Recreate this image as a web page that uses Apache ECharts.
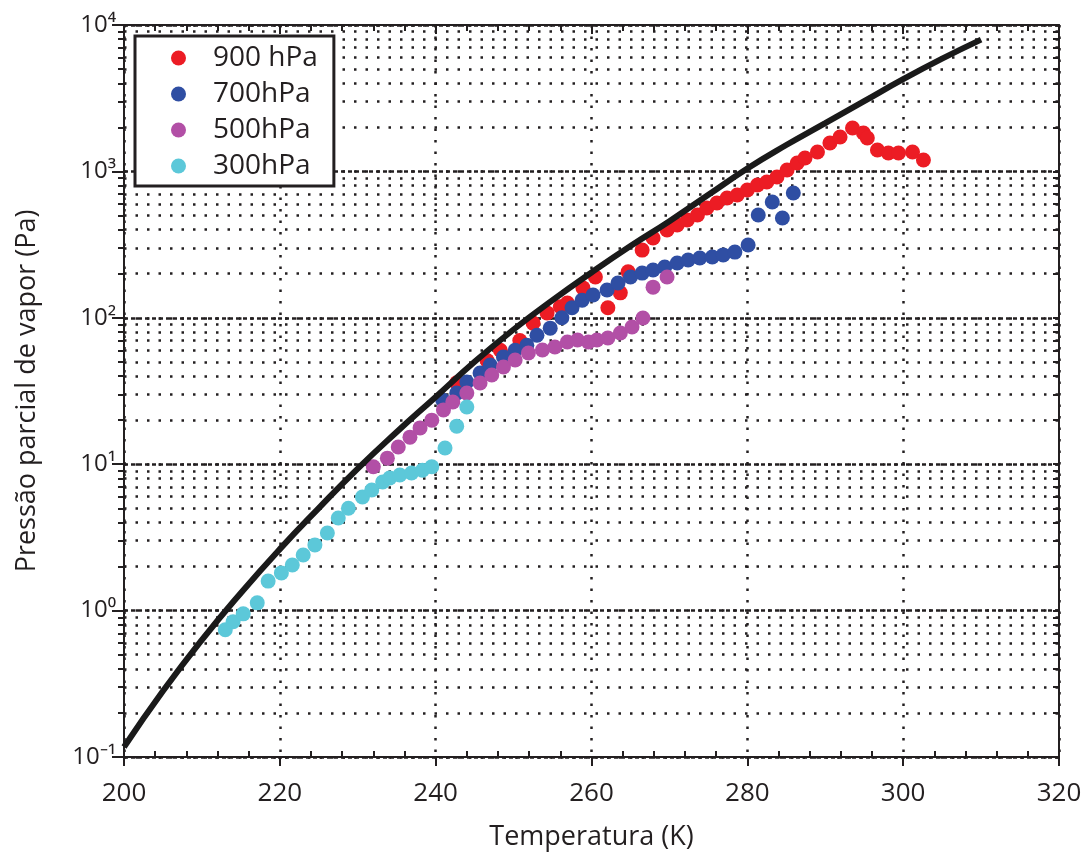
<!DOCTYPE html>
<html><head><meta charset="utf-8">
<script src="https://cdn.jsdelivr.net/npm/echarts@6/dist/echarts.min.js"></script>
<style>html,body{margin:0;padding:0;background:#fff}#c{width:1082px;height:852px}</style>
</head><body><div id="c"></div>
<script>
// ---- axis ticks / labels ----
const decades = [0.1, 1, 10, 100, 1000, 10000];
const decadeLabels = ['10⁻¹', '10⁰', '10¹', '10²', '10³', '10⁴'];
const xTicks = [200, 220, 240, 260, 280, 300, 320];
const seriesNames = ['900 hPa', '700hPa', '500hPa', '300hPa'];

// ---- saturation curve (black) ----
const satT = [200,205,210,215,220,225,230,235,240,245,250,255,260,265,270,275,280,285,290,295,300,305,310];
const satP = [0.117,0.282,0.631,1.32,2.63,5.01,9.33,16.6,28.8,50.1,83.2,132,204,309,457,692,1047,1514,2138,3020,4266,5888,7943];

// ---- 900 hPa ----
const t900 = [242.7,246.6,248.3,250.8,252.5,254.3,256.0,256.9,258.9,260.5,262.1,263.7,264.7,266.5,267.9,269.7,271.0,272.3,273.6,274.8,276.1,277.4,278.7,280.0,281.3,282.5,283.8,285.1,286.4,287.4,289.0,290.6,291.9,293.5,294.9,295.4,296.7,298.1,299.4,301.2,302.6];
const p900 = [36,51,60,70,92,108,119,126,160,190,117,148,206,290,351,398,431,466,504,562,608,658,690,746,807,847,916,1023,1141,1236,1358,1563,1718,1978,1829,1691,1400,1335,1335,1358,1197];

// ---- 700 hPa ----
const t700 = [240.9,242.7,244.0,245.7,247.0,248.7,250.2,251.7,253.0,254.7,256.2,257.5,258.8,260.2,262.0,263.4,265.0,266.5,267.9,269.4,271.0,272.4,273.9,275.5,276.9,278.4,280.1,281.4,283.2,284.5,285.9];
const p700 = [27.5,30.6,36.4,42,47.6,54,60,65,76,85,100,117,132,143,155,173,190,202,212,222,237,248,256,260,269,281,314,504,618,481,712];

// ---- 500 hPa ----
const t500 = [232.0,233.8,235.2,236.7,238.0,239.5,241.0,242.2,244.0,245.7,247.2,248.7,250.2,251.9,253.7,255.3,256.9,258.2,259.6,260.7,262.1,263.7,265.2,266.6,267.9,269.7];
const p500 = [9.6,11.0,13.1,15.3,17.7,20.0,23.5,26.6,30.6,35.9,40.7,46.1,51.5,57.5,60.3,63.2,68.4,70.5,68.4,70.5,72.8,78.7,86.5,99.7,162,190];

// ---- 300 hPa ----
const t300 = [213.0,214.0,215.3,217.1,218.5,220.2,221.6,223.0,224.5,226.1,227.5,228.8,230.6,231.8,233.2,234.1,235.4,236.9,238.3,239.5,241.2,242.7,244.0];
const p300 = [0.74,0.84,0.95,1.13,1.59,1.81,2.05,2.40,2.81,3.39,4.29,5.0,5.97,6.67,7.56,8.05,8.44,8.7,9.1,9.6,12.9,18.2,24.6];

const colors = ['#ec1c24', '#2f4ea3', '#b24fa6', '#5cc8d9'];

// tick positions for the log axis: 1..9 times each decade
const allY = [];
decades.forEach((d, i) => {
  allY.push(d);
  if (i < decades.length - 1) for (let k = 2; k <= 9; k++) allY.push(+(d * k).toPrecision(3));
});

const zip = (a, b) => a.map((v, i) => [v, b[i]]);
const FONT = 'Open Sans';
const TXT = '#231f20';

const baseY = {type: 'log', logBase: 10, min: 0.1, max: 10000, gridIndex: 0};

const chart = echarts.init(document.getElementById('c'), null, {renderer: 'canvas'});
chart.setOption({
  animation: false,
  backgroundColor: '#fff',
  textStyle: {fontFamily: FONT},
  grid: {left: 124, right: 23, top: 25, bottom: 95, containLabel: false, outerBoundsMode: 'none'},
  legend: {
    orient: 'vertical', left: 135, top: 36,
    data: seriesNames,
    backgroundColor: '#fff',
    borderColor: '#231f20', borderWidth: 3, borderRadius: 0,
    padding: [7, 16, 5, 36],
    itemWidth: 15, itemHeight: 15, itemGap: 6,
    icon: 'circle',
    textStyle: {fontSize: 28, lineHeight: 30, color: TXT, fontFamily: FONT, padding: [0, 0, 0, 22]}
  },
  xAxis: [
    {
      type: 'value', min: 200, max: 320, interval: 20, position: 'bottom',
      axisLine: {show: true, lineStyle: {color: '#231f20', width: 2}},
      axisTick: {show: true, length: 9, lineStyle: {color: '#231f20', width: 2}},
      axisLabel: {fontSize: 26, color: TXT, margin: 24, fontFamily: FONT},
      splitLine: {show: true, lineStyle: {color: '#231f20', width: 2.5, type: [2.5, 9]}},
      name: 'Temperatura (K)', nameLocation: 'middle', nameGap: 67,
      nameTextStyle: {fontSize: 27, color: TXT, fontFamily: FONT}
    },
    {
      type: 'value', min: 200, max: 320, interval: 20, position: 'bottom',
      axisLine: {show: false},
      axisTick: {show: false, inside: true},
      minorTick: {show: true, splitNumber: 5, length: 6, lineStyle: {color: '#231f20', width: 2}},
      axisLabel: {show: false}, splitLine: {show: false}
    },
    {
      type: 'value', min: 200, max: 320, interval: 20, position: 'top',
      axisLine: {show: true, lineStyle: {color: '#231f20', width: 2}},
      axisTick: {show: true, inside: true, length: 9, lineStyle: {color: '#231f20', width: 2}},
      minorTick: {show: true, splitNumber: 5, length: 6, lineStyle: {color: '#231f20', width: 2}},
      axisLabel: {show: false}, splitLine: {show: false}
    }
  ],
  yAxis: [
    Object.assign({}, baseY, {
      position: 'left',
      axisLine: {show: true, lineStyle: {color: '#231f20', width: 2}},
      axisTick: {show: true, length: 6, customValues: allY, lineStyle: {color: '#231f20', width: 2}},
      axisLabel: {
        customValues: decades, fontSize: 24, color: TXT, margin: 8, fontFamily: FONT,
        formatter: v => decadeLabels[Math.round(Math.log10(v)) + 1]
      },
      splitLine: {show: true, lineStyle: {color: '#231f20', width: 2.5, type: [2.5, 9]}},
      name: 'Pressão parcial de vapor (Pa)', nameLocation: 'middle', nameGap: 83, nameRotate: 90,
      nameTextStyle: {fontSize: 27, color: TXT, fontFamily: FONT}
    }),
    Object.assign({}, baseY, {
      position: 'left',
      axisLine: {show: false},
      axisTick: {show: true, length: 12, customValues: decades, lineStyle: {color: '#231f20', width: 2}},
      axisLabel: {show: false},
      splitLine: {show: true, lineStyle: {color: '#231f20', width: 2.5, type: [4, 3]}}
    }),
    Object.assign({}, baseY, {
      position: 'right',
      axisLine: {show: true, lineStyle: {color: '#231f20', width: 2}},
      axisTick: {show: true, inside: true, length: 6, customValues: allY, lineStyle: {color: '#231f20', width: 2}},
      axisLabel: {show: false},
      splitLine: {show: false}
    })
  ],
  series: [
    {name: seriesNames[0], type: 'scatter', data: zip(t900, p900), symbol: 'circle', symbolSize: 15, itemStyle: {color: colors[0], opacity: 1}, z: 3},
    {name: seriesNames[1], type: 'scatter', data: zip(t700, p700), symbol: 'circle', symbolSize: 15, itemStyle: {color: colors[1], opacity: 1}, z: 3},
    {name: seriesNames[2], type: 'scatter', data: zip(t500, p500), symbol: 'circle', symbolSize: 15, itemStyle: {color: colors[2], opacity: 1}, z: 3},
    {name: seriesNames[3], type: 'scatter', data: zip(t300, p300), symbol: 'circle', symbolSize: 15, itemStyle: {color: colors[3], opacity: 1}, z: 3},
    {name: 'sat', type: 'line', data: zip(satT, satP), smooth: true, showSymbol: false, symbol: 'none',
     lineStyle: {color: '#1a1a1a', width: 6}, z: 4}
  ]
});
</script></body></html>
